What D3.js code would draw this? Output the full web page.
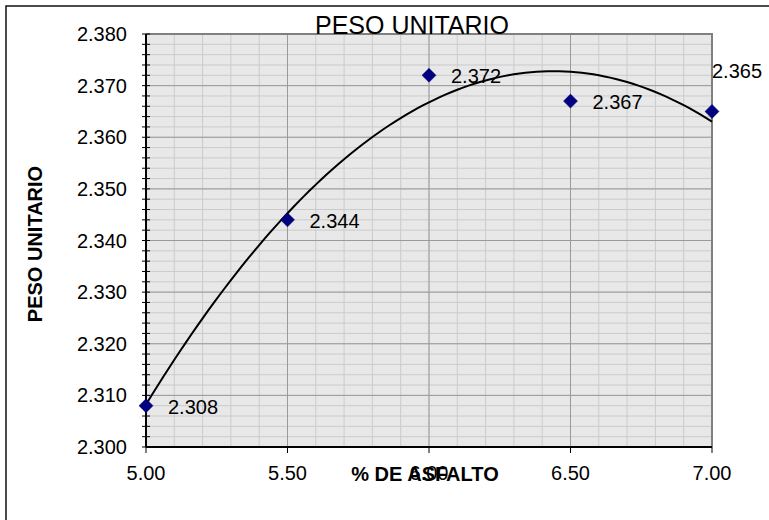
<!DOCTYPE html>
<html>
<head>
<meta charset="utf-8">
<script src="https://cdn.jsdelivr.net/npm/d3@7"></script>
<style>
  body { margin: 0; background: #fff; }
  svg { display: block; font-family: Arial, 'Liberation Sans', sans-serif; }
</style>
</head>
<body>
<svg width="769" height="520"></svg>
<script>
// data
var asphalt = [5.0, 5.5, 6.0, 6.5, 7.0];
var weight = [2.308, 2.344, 2.372, 2.367, 2.365];
var xTicks = [5.0, 5.5, 6.0, 6.5, 7.0];
var yTicks = [2.300, 2.310, 2.320, 2.330, 2.340, 2.350, 2.360, 2.370, 2.380];

var svg = d3.select('svg');

var x = d3.scaleLinear().domain([5, 7]).range([146, 712]);
var y = d3.scaleLinear().domain([2.300, 2.380]).range([447, 34]);

// outer chart border (only top/left visible)
svg.append('rect')
    .attr('x', 6).attr('y', 6)
    .attr('width', 800).attr('height', 600)
    .attr('fill', 'none')
    .attr('stroke', '#111')
    .attr('stroke-width', 1.5);

// plot background
svg.append('rect')
    .attr('x', x(5)).attr('y', y(2.38))
    .attr('width', x(7) - x(5)).attr('height', y(2.30) - y(2.38))
    .attr('fill', '#e8e8e8');

// minor grid
var xMinor = d3.range(0, 21).map(function(i) { return 5 + i * 0.1; });
var yMinor = d3.range(0, 41).map(function(i) { return 2.300 + i * 0.002; });

svg.append('g').selectAll('line').data(xMinor).join('line')
    .attr('x1', function(d) { return x(d); }).attr('x2', function(d) { return x(d); })
    .attr('y1', y(2.30)).attr('y2', y(2.38))
    .attr('stroke', '#cbcbcb').attr('stroke-width', 1);
svg.append('g').selectAll('line').data(yMinor).join('line')
    .attr('y1', function(d) { return y(d); }).attr('y2', function(d) { return y(d); })
    .attr('x1', x(5)).attr('x2', x(7))
    .attr('stroke', '#cbcbcb').attr('stroke-width', 1);

// major grid
svg.append('g').selectAll('line').data(xTicks).join('line')
    .attr('x1', function(d) { return x(d); }).attr('x2', function(d) { return x(d); })
    .attr('y1', y(2.30)).attr('y2', y(2.38))
    .attr('stroke', '#9a9a9a').attr('stroke-width', 1);
svg.append('g').selectAll('line').data(yTicks).join('line')
    .attr('y1', function(d) { return y(d); }).attr('y2', function(d) { return y(d); })
    .attr('x1', x(5)).attr('x2', x(7))
    .attr('stroke', '#9a9a9a').attr('stroke-width', 1);

// plot border top/right
svg.append('path')
    .attr('d', 'M' + x(5) + ',' + y(2.38) + 'H' + x(7) + 'V' + y(2.30))
    .attr('fill', 'none').attr('stroke', '#808080').attr('stroke-width', 2);

// y axis with crossing ticks
var yAxis = svg.append('g');
yAxis.append('line')
    .attr('x1', x(5)).attr('x2', x(5)).attr('y1', y(2.30)).attr('y2', y(2.38))
    .attr('stroke', '#000').attr('stroke-width', 2);
yAxis.selectAll('line.tk').data(yMinor).join('line')
    .attr('class', 'tk')
    .attr('x1', x(5) - 4).attr('x2', x(5) + 4)
    .attr('y1', function(d) { return y(d); }).attr('y2', function(d) { return y(d); })
    .attr('stroke', '#000').attr('stroke-width', 1);
yAxis.selectAll('text').data(yTicks).join('text')
    .attr('x', 127).attr('y', function(d) { return y(d) + 7; })
    .attr('text-anchor', 'end')
    .attr('font-size', 20)
    .text(function(d) { return d3.format('.3f')(d); });

// x axis
var xAxis = svg.append('g');
xAxis.append('line')
    .attr('x1', x(5)).attr('x2', x(7)).attr('y1', y(2.30)).attr('y2', y(2.30))
    .attr('stroke', '#000').attr('stroke-width', 2);
xAxis.selectAll('line.tk').data(xTicks).join('line')
    .attr('class', 'tk')
    .attr('x1', function(d) { return x(d); }).attr('x2', function(d) { return x(d); })
    .attr('y1', y(2.30)).attr('y2', y(2.30) + 6)
    .attr('stroke', '#000').attr('stroke-width', 1);
xAxis.selectAll('text').data(xTicks).join('text')
    .attr('x', function(d) { return x(d); }).attr('y', 480)
    .attr('text-anchor', 'middle')
    .attr('font-size', 20)
    .text(function(d) { return d3.format('.2f')(d); });

// polynomial (order 2) trendline by least squares
function quadFit(xs, ys) {
    var s = [0, 0, 0, 0, 0], t = [0, 0, 0];
    xs.forEach(function(xv, i) {
        for (var k = 0; k < 5; k++) s[k] += Math.pow(xv, k);
        for (var k2 = 0; k2 < 3; k2++) t[k2] += Math.pow(xv, k2) * ys[i];
    });
    var A = [[s[0], s[1], s[2], t[0]], [s[1], s[2], s[3], t[1]], [s[2], s[3], s[4], t[2]]];
    for (var i = 0; i < 3; i++) {
        for (var j = i + 1; j < 3; j++) {
            var f = A[j][i] / A[i][i];
            for (var k = i; k < 4; k++) A[j][k] -= f * A[i][k];
        }
    }
    var c = [0, 0, 0];
    for (var i2 = 2; i2 >= 0; i2--) {
        var v = A[i2][3];
        for (var j2 = i2 + 1; j2 < 3; j2++) v -= A[i2][j2] * c[j2];
        c[i2] = v / A[i2][i2];
    }
    return function(xv) { return c[0] + c[1] * xv + c[2] * xv * xv; };
}
var fit = quadFit(asphalt, weight);
var curvePts = d3.range(0, 101).map(function(i) { var xv = 5 + i * 0.02; return [xv, fit(xv)]; });

svg.append('path')
    .datum(curvePts)
    .attr('fill', 'none')
    .attr('stroke', '#000')
    .attr('stroke-width', 2)
    .attr('d', d3.line().x(function(d) { return x(d[0]); }).y(function(d) { return y(d[1]); }));

// markers
var pts = asphalt.map(function(a, i) { return {a: a, w: weight[i]}; });
svg.append('g').selectAll('path').data(pts).join('path')
    .attr('transform', function(d) { return 'translate(' + x(d.a) + ',' + y(d.w) + ')'; })
    .attr('d', d3.symbol(d3.symbolDiamond2, 125))
    .attr('fill', '#000080')
    .attr('stroke', '#000060')
    .attr('stroke-width', 0.5);

// data labels
svg.append('g').selectAll('text').data(pts).join('text')
    .attr('font-size', 20)
    .attr('x', function(d) { return x(d.a) + 22 + 52 > 769 ? x(d.a) : x(d.a) + 22; })
    .attr('y', function(d) { return x(d.a) + 22 + 52 > 769 ? y(d.w) - 33 : y(d.w) + 8; })
    .text(function(d) { return d3.format('.3f')(d.w); });

// titles
svg.append('text')
    .attr('x', 412).attr('y', 34)
    .attr('text-anchor', 'middle')
    .attr('font-size', 25)
    .text('PESO UNITARIO');

svg.append('text')
    .attr('transform', 'translate(42,244) rotate(-90)')
    .attr('text-anchor', 'middle')
    .attr('font-size', 20)
    .attr('font-weight', 'bold')
    .text('PESO UNITARIO');

svg.append('text')
    .attr('x', 425).attr('y', 481)
    .attr('text-anchor', 'middle')
    .attr('font-size', 20)
    .attr('font-weight', 'bold')
    .text('% DE ASFALTO');
</script>
</body>
</html>
